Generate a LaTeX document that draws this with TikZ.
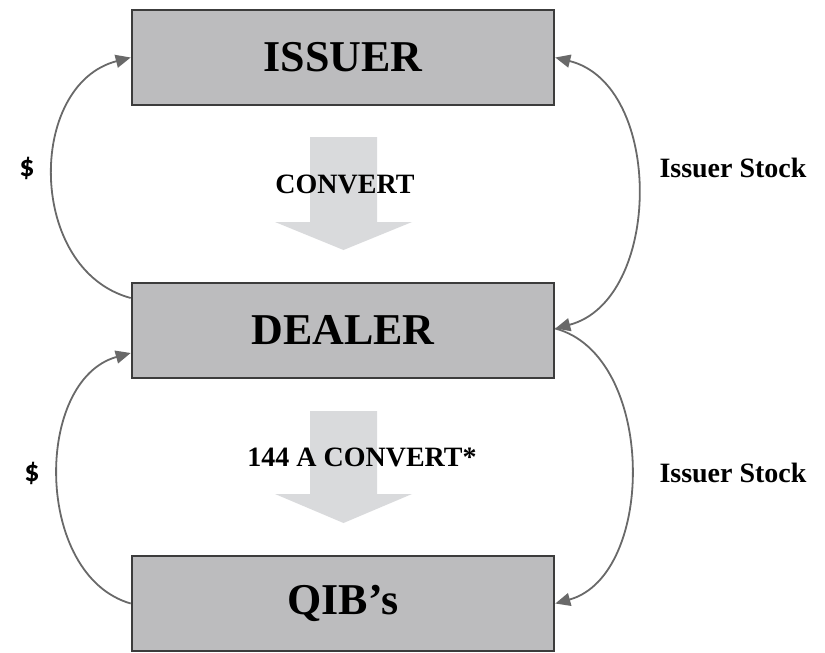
\documentclass[tikz,border=0pt]{standalone}
\usepackage{fontspec}
\setmainfont{Liberation Serif}
\newfontfamily\dollarfont{Carlito}
\usetikzlibrary{arrows.meta}
\definecolor{boxfill}{RGB}{188,188,190}
\definecolor{boxline}{RGB}{60,60,60}
\definecolor{convfill}{RGB}{217,218,220}
\definecolor{curvecol}{RGB}{105,105,105}
\tikzset{
  party/.style={draw=boxline, line width=2.6pt, fill=boxfill, minimum width=422pt, minimum height=95pt, inner sep=0pt, font=\fontsize{44}{48}\selectfont\bfseries},
  flowlabel/.style={font=\fontsize{28}{31}\selectfont\bfseries, inner sep=0pt},
  dollar/.style={font=\dollarfont\fontsize{30}{34}\selectfont\bfseries, inner sep=0pt},
  flow/.style={draw=curvecol, line width=1.8pt},
  tip/.style={-{Triangle[length=15pt,width=13pt]}},
  convarrow/.style={fill=convfill}
}
\begin{document}
\begin{tikzpicture}[x=1pt,y=-1pt]
\useasboundingbox (0,0) rectangle (825,653);
% convert arrows (drawn first, behind text)
\fill[convarrow] (310,137) -- (377,137) -- (377,222) -- (412,222) -- (343.5,250) -- (275,222) -- (310,222) -- cycle;
\fill[convarrow] (310,411) -- (377,411) -- (377,494) -- (412,494) -- (343.5,523) -- (275,494) -- (310,494) -- cycle;
% boxes
\node[party] (issuer) at (343,57.5) {ISSUER};
\node[party] (dealer) at (343,330.5) {DEALER};
\node[party] (qib) at (343,603.5) {QIB’s};
% labels
\node[flowlabel] (conv1) at (345,184) {CONVERT};
\node[flowlabel] (conv2) at (362,457) {144 A CONVERT*};
\node[dollar] (d1) at (27,168) {\$};
\node[dollar] (d2) at (32,473) {\$};
\node[flowlabel] (s1) at (733,168) {Issuer Stock};
\node[flowlabel] (s2) at (733,473) {Issuer Stock};
% connectors
\coordinate (dlU) at ([yshift=32.5pt]dealer.west);
\coordinate (dlL) at ([yshift=-22.5pt]dealer.west);
\coordinate (drU) at ([yshift=2pt]dealer.east);
\draw[flow,tip] (dlU) .. controls +(-104,-28) and +(-104,27) .. (issuer.west);
\draw[flow,tip] (qib.west) .. controls +(-97,-28) and +(-97,27) .. (dlL);
\draw[flow,{Triangle[length=15pt,width=13pt]}-{Triangle[length=15pt,width=13pt]}] (issuer.east) .. controls +(109,27) and +(107,-28) .. (drU);
\draw[flow,tip] (drU) .. controls +(101,27) and +(101,-28) .. (qib.east);
\end{tikzpicture}
\end{document}
